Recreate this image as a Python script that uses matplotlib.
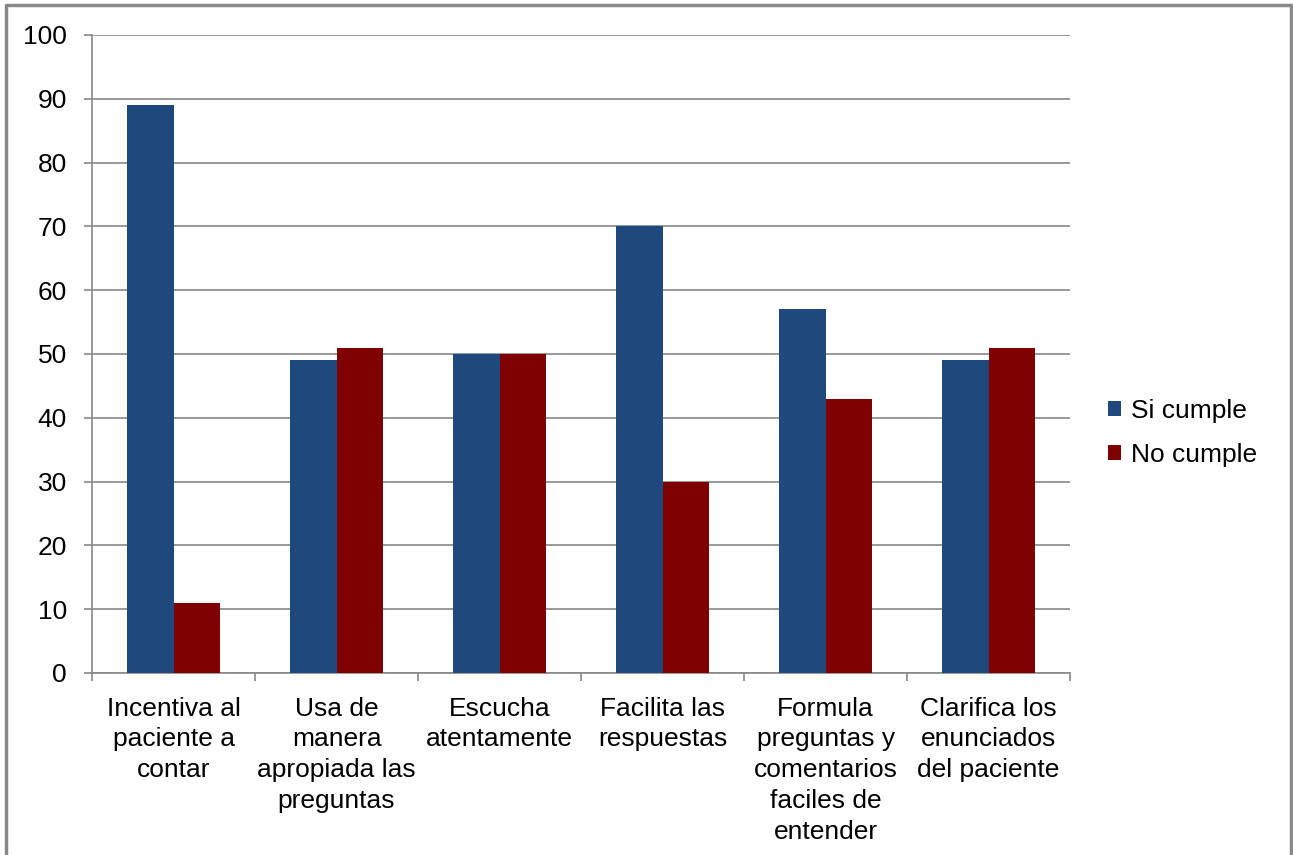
import matplotlib.pyplot as plt
import numpy as np

categorias = ['Incentiva al\npaciente a\ncontar',
              'Usa de\nmanera\napropiada las\npreguntas',
              'Escucha\natentamente',
              'Facilita las\nrespuestas',
              'Formula\npreguntas y\ncomentarios\nfaciles de\nentender',
              'Clarifica los\nenunciados\ndel paciente']
si_cumple = [89, 49, 50, 70, 57, 49]
no_cumple = [11, 51, 50, 30, 43, 51]

plt.rcParams['font.family'] = ['Liberation Sans', 'DejaVu Sans']

fig = plt.figure(figsize=(12.93, 8.55), dpi=100)
ax = fig.add_axes([0.0712, 0.2129, 0.7564, 0.7462])

x = np.arange(len(categorias))
w = 1 / 3.5
ax.bar(x - w / 2, si_cumple, w, color='#1F497D', label='Si cumple', zorder=3)
ax.bar(x + w / 2, no_cumple, w, color='#7F0000', label='No cumple', zorder=3)

ax.set_xlim(-0.5, len(categorias) - 0.5)
ax.set_ylim(0, 100)
ax.set_yticks(range(0, 101, 10))
ax.set_xticks(np.arange(len(categorias) + 1) - 0.5)
ax.set_xticklabels([])
ax.set_xticks(x, minor=True)
ax.set_xticklabels(categorias, minor=True, fontsize=19, linespacing=1.36)
ax.tick_params(axis='x', which='minor', length=0, pad=17)
ax.tick_params(axis='x', which='major', length=6, color='#888888', width=1.2)
ax.tick_params(axis='y', length=6, color='#888888', width=1.2, pad=12, labelsize=19)

ax.grid(axis='y', color='#888888', linewidth=1.2, zorder=0)
for s in ['top', 'right']:
    ax.spines[s].set_visible(False)
for s in ['left', 'bottom']:
    ax.spines[s].set_color('#888888')
    ax.spines[s].set_linewidth(1.2)

ax.legend(loc='center left', bbox_to_anchor=(1.014, 0.376), frameon=False,
          fontsize=19, handlelength=0.5, handleheight=0.5, handletextpad=0.4,
          labelspacing=0.75)

# outer frame (no bottom edge)
fig.add_artist(plt.Line2D([0.0046, 0.0046, 0.9985, 0.9985], [0, 0.9942, 0.9942, 0],
                          color='#888888', linewidth=2.5, transform=fig.transFigure))

fig.savefig('out.png', dpi=100)
